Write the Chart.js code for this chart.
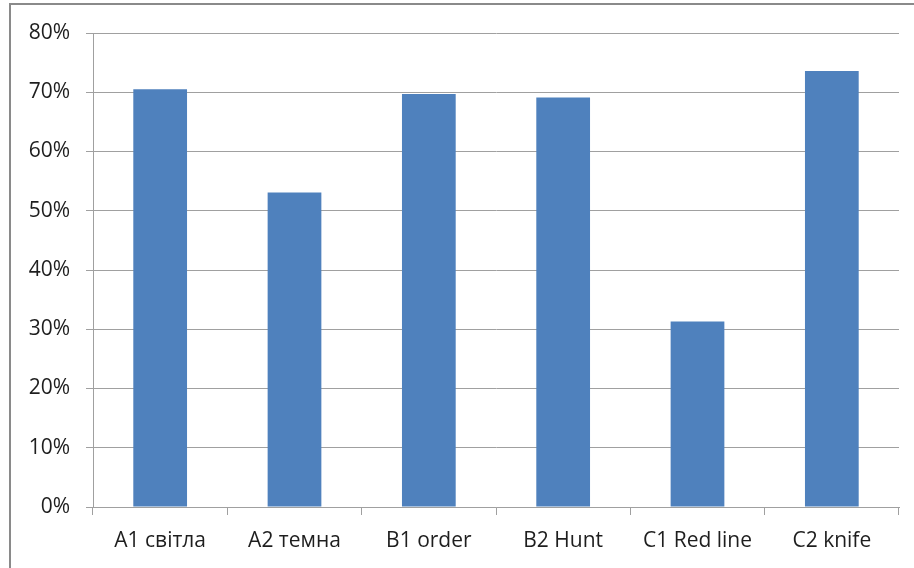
<!DOCTYPE html>
<html>
<head>
<meta charset="utf-8">
<script src="https://cdn.jsdelivr.net/npm/chart.js@4/dist/chart.umd.min.js"></script>
<style>
  html, body { margin: 0; padding: 0; background: #ffffff; }
  #wrap { position: relative; width: 914px; height: 568px; }
</style>
</head>
<body>
<div id="wrap"><canvas id="chart" width="914" height="568"></canvas></div>
<script>
// Category labels along the bottom axis
const categories = ["A1 світла", "A2 темна", "B1 order", "B2 Hunt", "C1 Red line", "C2 knife"];
// Share per category, in percent
const shares = [70.5, 53.1, 69.7, 69.1, 31.3, 73.6];
// Value axis range and step, in percent
const yMin = 0;
const yMax = 80;
const yStep = 10;

const FONT = "'Open Sans', 'DejaVu Sans', sans-serif";
const TEXT = "#1e1e1e";
const GRID = "#a0a0a0";

// Outer frame drawn along the top and left edges
const framePlugin = {
  id: "frame",
  beforeDraw(chart) {
    const ctx = chart.ctx;
    ctx.save();
    ctx.strokeStyle = "#8a8a8a";
    ctx.lineWidth = 2;
    ctx.beginPath();
    ctx.moveTo(10, chart.height);
    ctx.lineTo(10, 4);
    ctx.lineTo(chart.width, 4);
    ctx.stroke();
    ctx.restore();
  }
};

new Chart(document.getElementById("chart"), {
  type: "bar",
  data: {
    labels: categories,
    datasets: [{
      data: shares,
      backgroundColor: "#4f81bd",
      borderWidth: 0,
      barPercentage: 0.4,
      categoryPercentage: 1.0
    }]
  },
  options: {
    responsive: false,
    animation: false,
    devicePixelRatio: 1,
    layout: { padding: { top: 33, right: 15, bottom: 0, left: 0 } },
    plugins: {
      legend: { display: false },
      tooltip: { enabled: false }
    },
    scales: {
      x: {
        grid: {
          offset: true,
          drawOnChartArea: false,
          drawTicks: true,
          tickLength: 8,
          color: GRID,
          lineWidth: 1
        },
        border: { color: GRID, width: 1 },
        ticks: {
          color: TEXT,
          font: { family: FONT, size: 21 },
          padding: 13,
          maxRotation: 0,
          autoSkip: false
        },
        afterFit(scale) { scale.height = 61; }
      },
      y: {
        min: yMin,
        max: yMax,
        grid: {
          color: GRID,
          lineWidth: 1,
          drawTicks: true,
          tickLength: 7
        },
        border: { color: GRID, width: 1 },
        ticks: {
          stepSize: yStep,
          color: TEXT,
          font: { family: FONT, size: 21 },
          padding: 16,
          callback: (v) => v + "%"
        },
        afterFit(scale) { scale.width = 93; }
      }
    }
  },
  plugins: [framePlugin]
});
</script>
</body>
</html>
